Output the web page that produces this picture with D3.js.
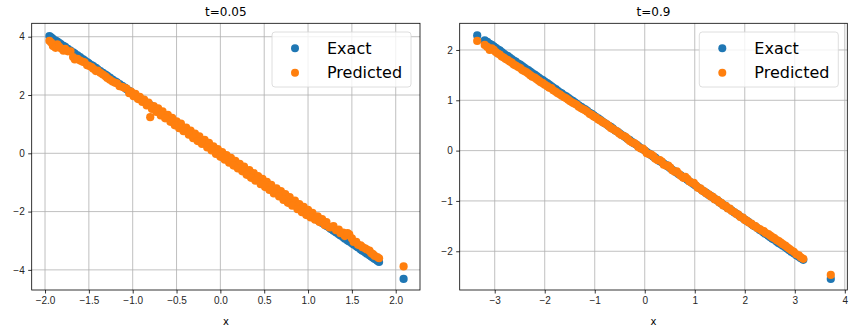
<!DOCTYPE html>
<html>
<head>
<meta charset="utf-8">
<script src="https://cdn.jsdelivr.net/npm/d3@7"></script>
<style>
  body { margin: 0; background: #fff; }
  svg { display: block; font-family: "DejaVu Sans", sans-serif; }
</style>
</head>
<body>
<svg id="chart" width="856" height="332"></svg>
<script>
// t = 0.05
var xLeft = [-1.95, -1.91, -1.86, -1.82, -1.77, -1.71, -1.66, -1.60, -1.55, -1.50, -1.45, -1.40, -1.34, -1.29, -1.23, -1.18, -1.12, -1.07, -1.02, -0.97,
  -0.92, -0.87, -0.82, -0.80, -0.76, -0.71, -0.66, -0.60, -0.55, -0.50, -0.45, -0.39, -0.34, -0.29, -0.24, -0.18, -0.13, -0.08, -0.03, 0.02,
  0.07, 0.12, 0.17, 0.22, 0.27, 0.33, 0.38, 0.43, 0.48, 0.53, 0.58, 0.64, 0.69, 0.74, 0.79, 0.85, 0.90, 0.95, 1.00, 1.05,
  1.11, 1.16, 1.21, 1.26, 1.32, 1.37, 1.42, 1.47, 1.52, 1.57, 1.62, 1.67, 1.72, 1.76, 1.81, 2.09,
  -1.93, -1.88, -1.84, -1.79, -1.74, -1.68, -1.63, -1.57, -1.52, -1.47, -1.42, -1.37, -1.31, -1.26, -1.20, -1.15, -1.09, -1.04, -0.99, -0.94,
  -0.89, -0.84, -0.78, -0.73, -0.68, -0.63, -0.57, -0.52, -0.47, -0.42, -0.36, -0.31, -0.26, -0.21, -0.15, -0.10, -0.05, 0.00, 0.05, 0.10,
  0.15, 0.20, 0.25, 0.30, 0.35, 0.40, 0.46, 0.51, 0.56, 0.61, 0.67, 0.72, 0.77, 0.82, 0.88, 0.93, 0.98, 1.03, 1.08, 1.13,
  1.19, 1.24, 1.29, 1.35, 1.40, 1.45, 1.50, 1.55, 1.60, 1.65, 1.70, 1.74, 1.79];
var exactLeft = [4.02, 3.93, 3.83, 3.75, 3.65, 3.52, 3.42, 3.30, 3.19, 3.09, 2.99, 2.88, 2.76, 2.66, 2.53, 2.43, 2.31, 2.20, 2.10, 2.00,
  1.90, 1.79, 1.69, 1.65, 1.57, 1.46, 1.36, 1.24, 1.13, 1.03, 0.93, 0.80, 0.70, 0.60, 0.49, 0.37, 0.27, 0.16, 0.06, -0.04,
  -0.14, -0.25, -0.35, -0.45, -0.56, -0.68, -0.78, -0.89, -0.99, -1.09, -1.19, -1.32, -1.42, -1.52, -1.63, -1.75, -1.85, -1.96, -2.06, -2.16,
  -2.29, -2.39, -2.49, -2.60, -2.72, -2.82, -2.93, -3.03, -3.13, -3.23, -3.34, -3.44, -3.54, -3.63, -3.73, -4.31,
  3.98, 3.87, 3.79, 3.69, 3.58, 3.46, 3.36, 3.23, 3.13, 3.03, 2.93, 2.82, 2.70, 2.60, 2.47, 2.37, 2.25, 2.14, 2.04, 1.94,
  1.83, 1.73, 1.61, 1.50, 1.40, 1.30, 1.17, 1.07, 0.97, 0.87, 0.74, 0.64, 0.54, 0.43, 0.31, 0.21, 0.10, 0.00, -0.10, -0.21,
  -0.31, -0.41, -0.52, -0.62, -0.72, -0.82, -0.95, -1.05, -1.15, -1.26, -1.38, -1.48, -1.59, -1.69, -1.81, -1.92, -2.02, -2.12, -2.22, -2.33,
  -2.45, -2.55, -2.66, -2.78, -2.88, -2.99, -3.09, -3.19, -3.30, -3.40, -3.50, -3.58, -3.69];
var predLeft = [3.86, 3.68, 3.74, 3.60, 3.58, 3.50, 3.22, 3.18, 3.12, 3.00, 2.90, 2.84, 2.70, 2.58, 2.46, 2.40, 2.28, 2.22, 2.12, 2.04,
  1.94, 1.84, 1.74, 1.24, 1.62, 1.54, 1.44, 1.32, 1.22, 1.10, 1.02, 0.88, 0.78, 0.68, 0.58, 0.46, 0.36, 0.24, 0.14, 0.04,
  -0.06, -0.16, -0.26, -0.36, -0.46, -0.58, -0.68, -0.78, -0.88, -0.98, -1.08, -1.20, -1.30, -1.40, -1.50, -1.62, -1.74, -1.84, -1.94, -2.04,
  -2.16, -2.26, -2.36, -2.54, -2.64, -2.74, -2.84, -2.78, -3.04, -3.14, -3.22, -3.30, -3.42, -3.52, -3.60, -3.88,
  3.80, 3.62, 3.66, 3.52, 3.50, 3.30, 3.24, 3.14, 3.02, 2.96, 2.82, 2.76, 2.64, 2.52, 2.42, 2.30, 2.24, 2.06, 1.96, 1.86,
  1.76, 1.64, 1.52, 1.42, 1.30, 1.20, 1.08, 0.96, 0.86, 0.76, 0.64, 0.52, 0.42, 0.32, 0.20, 0.10, -0.02, -0.12, -0.22, -0.32,
  -0.42, -0.52, -0.62, -0.74, -0.84, -0.94, -1.06, -1.16, -1.26, -1.38, -1.48, -1.60, -1.70, -1.80, -1.92, -2.02, -2.12, -2.20, -2.28, -2.36,
  -2.46, -2.54, -2.50, -2.62, -2.72, -2.74, -2.92, -3.04, -3.16, -3.26, -3.34, -3.46, -3.56];

// t = 0.9
var xRight = [-3.35, -3.20, -3.10, -3.02, -2.94, -2.86, -2.78, -2.70, -2.62, -2.53, -2.45, -2.37, -2.29, -2.20, -2.12, -2.04, -1.95, -1.87, -1.78, -1.70,
  -1.61, -1.53, -1.44, -1.36, -1.27, -1.19, -1.10, -1.02, -0.93, -0.85, -0.76, -0.68, -0.59, -0.51, -0.42, -0.34, -0.25, -0.17, -0.08, 0.00,
  0.09, 0.17, 0.26, 0.34, 0.43, 0.51, 0.60, 0.68, 0.77, 0.85, 0.94, 1.02, 1.11, 1.19, 1.28, 1.36, 1.45, 1.53, 1.62, 1.70,
  1.79, 1.87, 1.96, 2.04, 2.13, 2.21, 2.30, 2.38, 2.47, 2.55, 2.64, 2.72, 2.81, 2.89, 2.98, 3.08, 3.17, 3.72,
  -3.15, -3.06, -2.98, -2.90, -2.82, -2.74, -2.66, -2.58, -2.49, -2.41, -2.33, -2.25, -2.16, -2.08, -2.00, -1.91, -1.83, -1.74, -1.66, -1.57,
  -1.49, -1.40, -1.32, -1.23, -1.15, -1.06, -0.98, -0.89, -0.81, -0.72, -0.64, -0.55, -0.47, -0.38, -0.30, -0.21, -0.13, -0.04, 0.04, 0.13,
  0.21, 0.30, 0.38, 0.47, 0.55, 0.64, 0.72, 0.81, 0.89, 0.98, 1.06, 1.15, 1.23, 1.32, 1.40, 1.49, 1.57, 1.66, 1.74, 1.83,
  1.91, 2.00, 2.08, 2.17, 2.25, 2.34, 2.42, 2.51, 2.59, 2.68, 2.76, 2.85, 2.93, 3.03, 3.12];
var exactRight = [2.29, 2.19, 2.12, 2.07, 2.01, 1.96, 1.90, 1.85, 1.79, 1.73, 1.68, 1.62, 1.57, 1.51, 1.45, 1.40, 1.34, 1.28, 1.22, 1.16,
  1.10, 1.05, 0.99, 0.93, 0.87, 0.82, 0.75, 0.70, 0.64, 0.58, 0.52, 0.47, 0.40, 0.35, 0.29, 0.23, 0.17, 0.12, 0.05, 0.00,
  -0.06, -0.12, -0.18, -0.23, -0.29, -0.35, -0.41, -0.47, -0.53, -0.58, -0.64, -0.70, -0.76, -0.82, -0.88, -0.93, -0.99, -1.05, -1.11, -1.16,
  -1.23, -1.28, -1.34, -1.40, -1.46, -1.51, -1.58, -1.63, -1.69, -1.75, -1.81, -1.86, -1.92, -1.98, -2.04, -2.11, -2.17, -2.55,
  2.16, 2.10, 2.04, 1.99, 1.93, 1.88, 1.82, 1.77, 1.71, 1.65, 1.60, 1.54, 1.48, 1.42, 1.37, 1.31, 1.25, 1.19, 1.14, 1.08,
  1.02, 0.96, 0.90, 0.84, 0.79, 0.73, 0.67, 0.61, 0.55, 0.49, 0.44, 0.38, 0.32, 0.26, 0.21, 0.14, 0.09, 0.03, -0.03, -0.09,
  -0.14, -0.21, -0.26, -0.32, -0.38, -0.44, -0.49, -0.55, -0.61, -0.67, -0.73, -0.79, -0.84, -0.90, -0.96, -1.02, -1.08, -1.14, -1.19, -1.25,
  -1.31, -1.37, -1.42, -1.49, -1.54, -1.60, -1.66, -1.72, -1.77, -1.84, -1.89, -1.95, -2.01, -2.08, -2.14];
var predRight = [2.18, 2.10, 2.00, 2.00, 1.93, 1.87, 1.82, 1.77, 1.71, 1.66, 1.60, 1.56, 1.50, 1.45, 1.39, 1.34, 1.28, 1.24, 1.17, 1.12,
  1.06, 1.01, 0.95, 0.91, 0.84, 0.80, 0.73, 0.68, 0.62, 0.57, 0.52, 0.45, 0.40, 0.34, 0.29, 0.23, 0.16, 0.12, 0.04, 0.00,
  -0.07, -0.11, -0.19, -0.22, -0.30, -0.34, -0.42, -0.46, -0.54, -0.56, -0.64, -0.69, -0.75, -0.81, -0.87, -0.92, -0.98, -1.04, -1.10, -1.15,
  -1.22, -1.27, -1.33, -1.39, -1.45, -1.50, -1.56, -1.60, -1.66, -1.72, -1.78, -1.83, -1.89, -1.95, -2.01, -2.08, -2.15, -2.47,
  2.06, 2.03, 1.96, 1.91, 1.85, 1.80, 1.75, 1.69, 1.64, 1.58, 1.53, 1.47, 1.42, 1.36, 1.31, 1.25, 1.20, 1.14, 1.09, 1.04,
  0.98, 0.93, 0.87, 0.82, 0.77, 0.71, 0.66, 0.60, 0.55, 0.49, 0.43, 0.38, 0.31, 0.27, 0.19, 0.15, 0.07, 0.04, -0.05, -0.08,
  -0.16, -0.19, -0.28, -0.30, -0.39, -0.41, -0.50, -0.52, -0.61, -0.64, -0.74, -0.80, -0.85, -0.91, -0.97, -1.03, -1.09, -1.15, -1.20, -1.26,
  -1.32, -1.38, -1.43, -1.49, -1.54, -1.59, -1.64, -1.69, -1.74, -1.80, -1.86, -1.92, -1.98, -2.06, -2.12];

var xTicksLeft = [-2.0, -1.5, -1.0, -0.5, 0.0, 0.5, 1.0, 1.5, 2.0];
var yTicksLeft = [-4, -2, 0, 2, 4];
var xTicksRight = [-3, -2, -1, 0, 1, 2, 3, 4];
var yTicksRight = [-2, -1, 0, 1, 2];
var seriesNames = ['Exact', 'Predicted'];
var colors = ['#1f77b4', '#ff7f0e'];

var svg = d3.select('#chart');

var panel = function(opt) {
	var g = svg.append('g');
	var x = d3.scaleLinear().domain(opt.xDomain).range([opt.left, opt.right]);
	var y = d3.scaleLinear().domain(opt.yDomain).range([opt.bottom, opt.top]);

	// grid
	g.selectAll('.gx')
		.data(opt.xTicks)
		.enter()
		.append('line')
		.attr('x1', d => x(d)).attr('x2', d => x(d))
		.attr('y1', opt.top).attr('y2', opt.bottom)
		.attr('stroke', '#b0b0b0')
		.attr('stroke-width', 0.8);
	g.selectAll('.gy')
		.data(opt.yTicks)
		.enter()
		.append('line')
		.attr('x1', opt.left).attr('x2', opt.right)
		.attr('y1', d => y(d)).attr('y2', d => y(d))
		.attr('stroke', '#b0b0b0')
		.attr('stroke-width', 0.8);

	// points, exact first then predicted on top
	[opt.exact, opt.pred].forEach((ys, k) => {
		g.append('g')
			.selectAll('circle')
			.data(opt.xs)
			.enter()
			.append('circle')
			.attr('cx', d => x(d))
			.attr('cy', (d, i) => y(ys[i]))
			.attr('r', 4.1)
			.attr('fill', colors[k]);
	});

	// axes
	var xAxis = d3.axisBottom(x).tickValues(opt.xTicks).tickSize(3.5).tickPadding(3.5).tickFormat(opt.xFormat);
	var yAxis = d3.axisLeft(y).tickValues(opt.yTicks).tickSize(3.5).tickPadding(3.5).tickFormat(d3.format('d'));

	var ax = g.append('g').attr('transform', `translate(0,${opt.bottom})`).call(xAxis);
	var ay = g.append('g').attr('transform', `translate(${opt.left},0)`).call(yAxis);
	[ax, ay].forEach(a => {
		a.select('.domain').remove();
		a.selectAll('.tick line').attr('stroke', '#000').attr('stroke-width', 0.8);
		a.selectAll('.tick text').attr('fill', '#262626').style('font-size', '10px');
	});

	g.append('rect')
		.attr('x', opt.left).attr('y', opt.top)
		.attr('width', opt.right - opt.left).attr('height', opt.bottom - opt.top)
		.attr('fill', 'none')
		.attr('stroke', '#000')
		.attr('stroke-width', 0.8);

	g.append('text')
		.attr('x', (opt.left + opt.right) / 2)
		.attr('y', 16)
		.attr('text-anchor', 'middle')
		.style('font-size', '12px')
		.text(opt.title);

	g.append('text')
		.attr('x', (opt.left + opt.right) / 2)
		.attr('y', 325)
		.attr('text-anchor', 'middle')
		.style('font-size', '10px')
		.text('x');

	// legend
	var lg = g.append('g').attr('transform', `translate(${opt.right - 148},32)`);
	lg.append('rect')
		.attr('x', 0).attr('y', 0)
		.attr('width', 139).attr('height', 55)
		.attr('rx', 3)
		.attr('fill', 'rgba(255,255,255,0.8)')
		.attr('stroke', '#d6d6d6')
		.attr('stroke-width', 0.8);
	seriesNames.forEach((name, i) => {
		lg.append('circle')
			.attr('cx', 23).attr('cy', 16.3 + i * 24.4)
			.attr('r', 4)
			.attr('fill', colors[i]);
		lg.append('text')
			.attr('x', 55).attr('y', 21.8 + i * 24.4)
			.style('font-size', '16px')
			.attr('fill', '#000')
			.text(name);
	});
};

panel({
	left: 31.7, right: 420, top: 23.3, bottom: 290,
	xDomain: [-2.152, 2.277], yDomain: [-4.69, 4.46],
	xTicks: xTicksLeft, yTicks: yTicksLeft, xFormat: d3.format('.1f'),
	xs: xLeft, exact: exactLeft, pred: predLeft,
	title: 't=0.05'
});

panel({
	left: 459.7, right: 847.3, top: 23.3, bottom: 290,
	xDomain: [-3.7, 4.05], yDomain: [-2.77, 2.53],
	xTicks: xTicksRight, yTicks: yTicksRight, xFormat: d3.format('d'),
	xs: xRight, exact: exactRight, pred: predRight,
	title: 't=0.9'
});
</script>
</body>
</html>
